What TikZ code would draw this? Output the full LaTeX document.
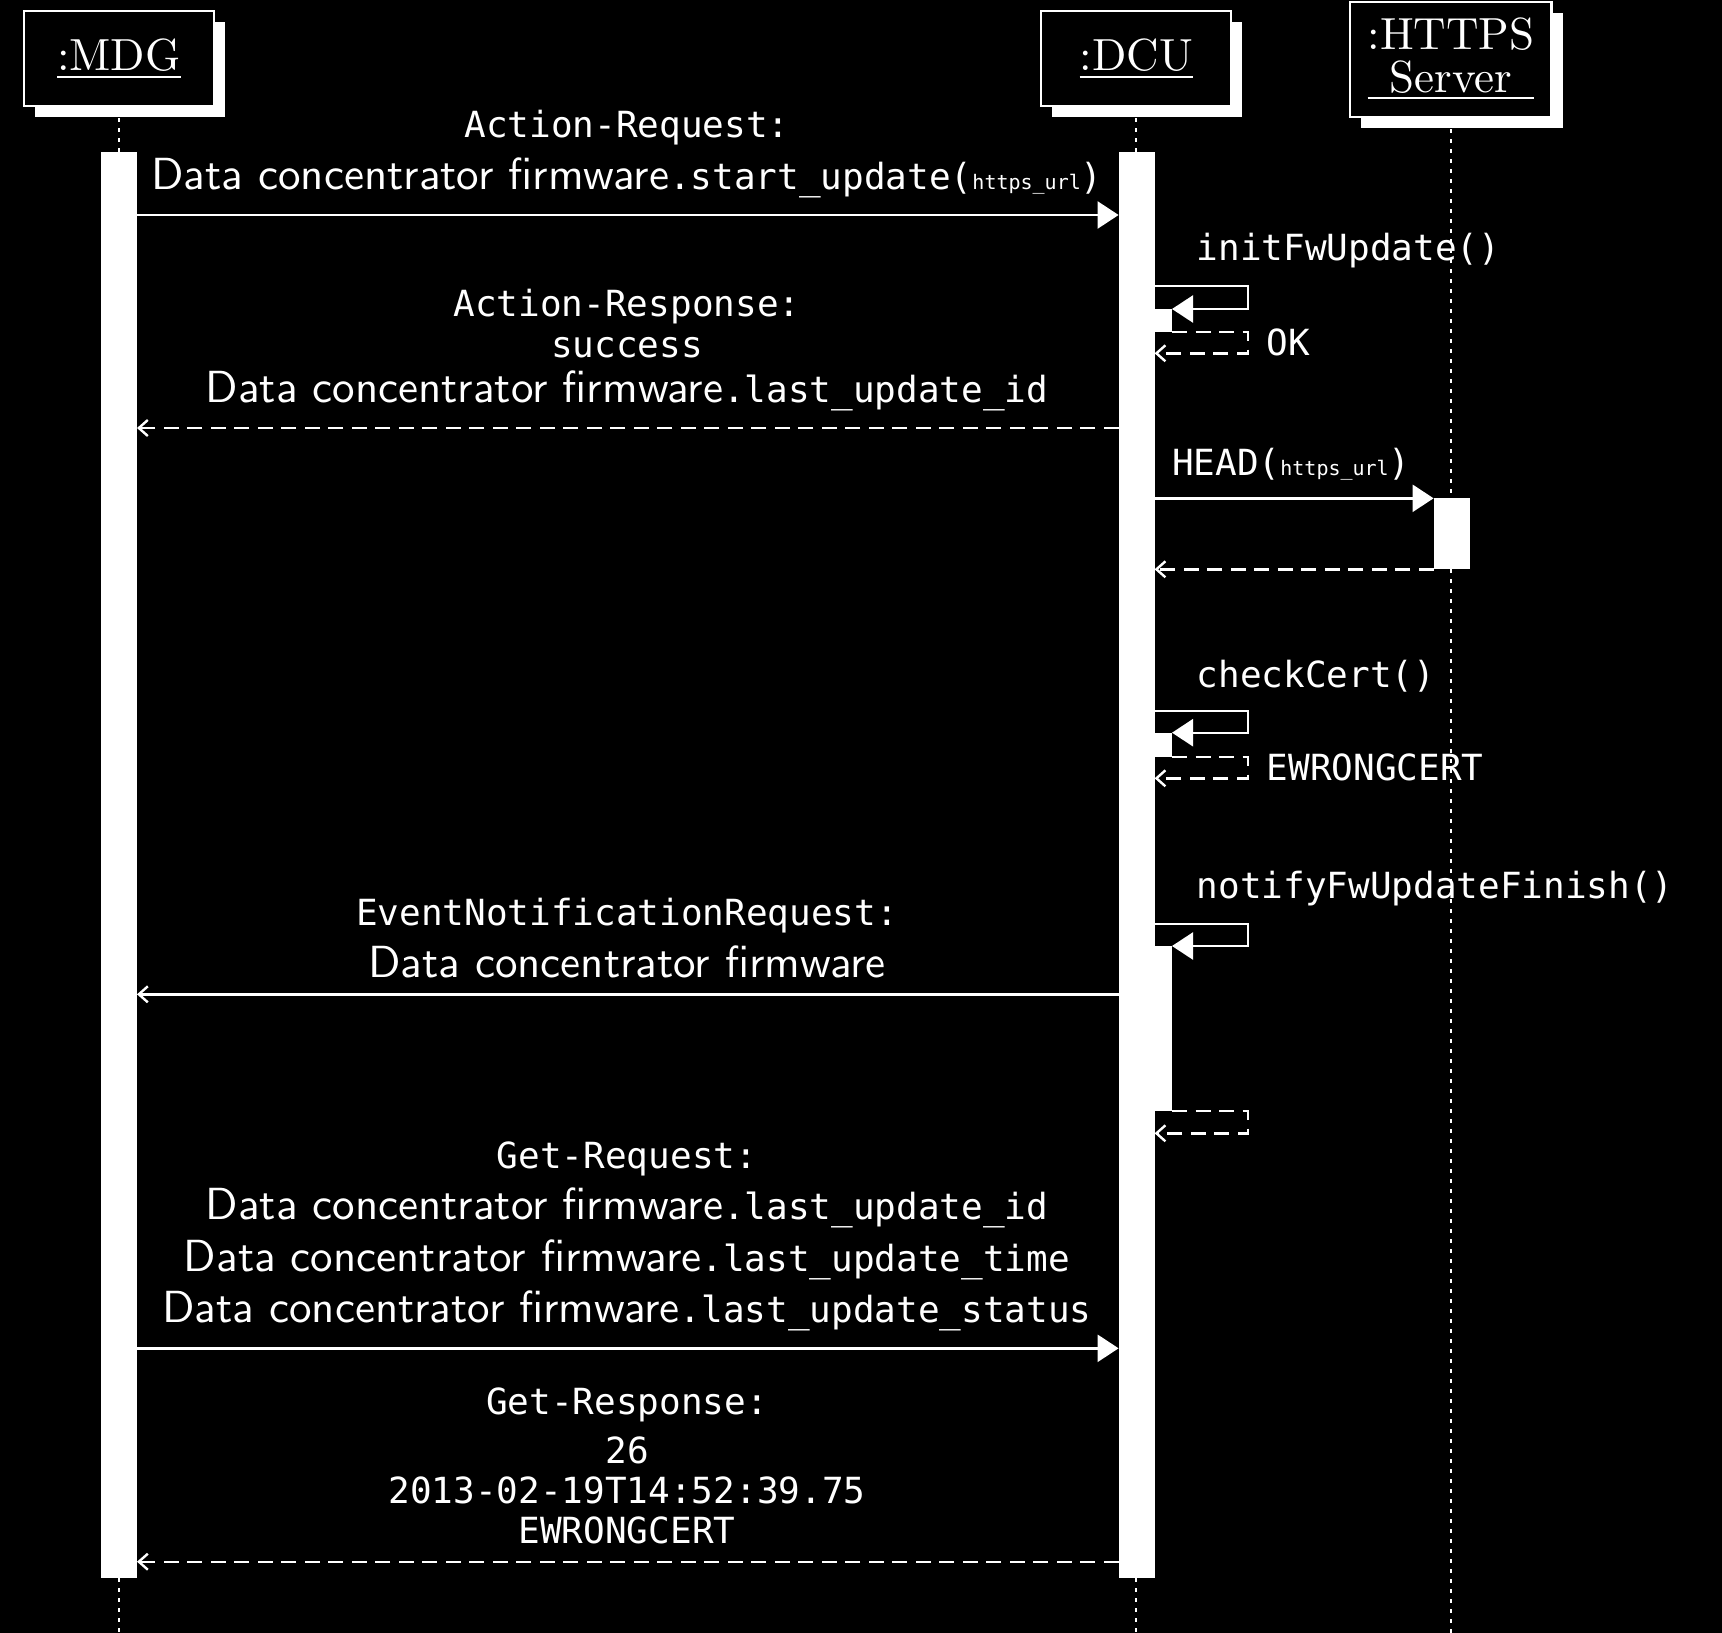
\documentclass[tikz,border=0pt]{standalone}
\usepackage{fontspec}
\usetikzlibrary{arrows.meta,shadows}
\newfontfamily\monoF{DejaVu Sans Mono}
\newfontfamily\sansF{lmsans10-regular.otf}
\newfontfamily\serifF{lmroman10-regular.otf}
\newcommand\mtxt[1]{{\monoF\fontsize{36}{40}\selectfont #1}}
\newcommand\stxt[1]{{\sansF\fontsize{45}{50}\selectfont #1}}
\newcommand\utxt[1]{{\monoF\fontsize{20}{24}\selectfont #1}}
\newcommand\rtxt[1]{{\serifF\fontsize{45}{50}\selectfont #1}}
\begin{document}
\begin{tikzpicture}[x=1pt,y=-1pt,
  lbl/.style={text=white,inner sep=0pt,outer sep=0pt,anchor=base},
  lblw/.style={lbl,anchor=base west},
  objbox/.style={draw=white,fill=black,line width=2.2pt,inner sep=0pt,
    drop shadow={shadow xshift=11pt,shadow yshift=-11pt,fill=white,opacity=1}},
  bar/.style={fill=white,inner sep=0pt,outer sep=0pt,minimum width=36pt},
  nbar/.style={fill=white,inner sep=0pt,outer sep=0pt,minimum width=17.4pt},
  lifeline/.style={white,line width=2.2pt,dash pattern=on 3.5pt off 6.5pt},
  uline/.style={white,line width=2.2pt},
  call/.style={white,line width=2.4pt,-{Triangle[length=21pt,width=27pt]}},
  ret/.style={white,line width=2.4pt,dash pattern=on 15pt off 8.5pt,-{Straight Barb[length=9pt,width=16pt]}},
  async/.style={white,line width=2.4pt,-{Straight Barb[length=9pt,width=16pt]}},
]
% background and bounds
\fill[black] (0,0) rectangle (1722,1633);
\useasboundingbox (0,0) rectangle (1722,1633);

% object boxes
\node[objbox,minimum width=190pt,minimum height=95pt] (mdg) at (118.8,58.4) {};
\node[objbox,minimum width=190pt,minimum height=95pt] (dcu) at (1136.2,58.4) {};
\node[objbox,minimum width=201.5pt,minimum height=115pt] (https) at (1450.8,59.5) {};

\node[lbl] (mdgT) at (118.8,70) {\rtxt{:MDG}};
\node[lbl] (dcuT) at (1136.2,70) {\rtxt{:DCU}};
\node[lbl] (ht1) at (1451,49) {\rtxt{:HTTPS}};
\node[lbl] (ht2) at (1451,92) {\rtxt{Server}};
\coordinate (ulA) at (0,76.7);
\coordinate (ulB) at (0,98);
\draw[uline] (mdgT.west |- ulA) -- (mdgT.east |- ulA);
\draw[uline] (dcuT.west |- ulA) -- (dcuT.east |- ulA);
\draw[uline] (ht1.west |- ulB) -- (ht1.east |- ulB);

% lifelines
\coordinate (bottom) at (0,1633);
\draw[lifeline] ([yshift=-11pt]mdg.south) -- (mdg.south |- bottom);
\draw[lifeline] ([yshift=-11pt]dcu.south) -- (dcu.south |- bottom);
\draw[lifeline] ([yshift=-11pt]https.south) -- (https.south |- bottom);

% activation bars
\node[bar,minimum height=1426.6pt] (mdgbar) at (119,865) {};
\node[bar,minimum height=1426.6pt] (dcubar) at (1136.6,865) {};
\node[bar,minimum height=71pt] (hbar) at (1451.6,533.8) {};
\node[nbar,minimum height=22.7pt] (nest1) at (1163.3,320.35) {};
\node[nbar,minimum height=24pt] (nest2) at (1163.3,744.7) {};
\node[nbar,minimum height=164.7pt] (nest3) at (1163.3,1028.35) {};

% Action-Request
\node[lbl] (ar1) at (627,137.7) {\mtxt{Action-Request:}};
\node[lbl] (ar2) at (627,189.3) {\stxt{Data concentrator firmware}\mtxt{.start\_update(}\utxt{https\_url}\mtxt{)}};
\coordinate (y1) at (0,215);
\draw[call] (mdgbar.east |- y1) -- (dcubar.west |- y1);

% initFwUpdate
\node[lblw] (sc1) at (1196.7,260.7) {\mtxt{initFwUpdate()}};
\coordinate (c1) at (0,285.7);
\draw[call] (dcubar.east |- c1) -- ++(93.4,0) |- (nest1.north east);
\coordinate (r1) at (0,353.3);
\draw[ret] (nest1.south east) -- ++(76,0) |- (dcubar.east |- r1);
\node[lblw] (ok) at (1266.7,355) {\mtxt{OK}};

% Action-Response
\node[lbl] (rs1) at (627,316) {\mtxt{Action-Response:}};
\node[lbl] (rs2) at (627,357) {\mtxt{success}};
\node[lbl] (rs3) at (627,402) {\stxt{Data concentrator firmware}\mtxt{.last\_update\_id}};
\coordinate (y2) at (0,428);
\draw[ret] (dcubar.west |- y2) -- (mdgbar.east |- y2);

% HEAD
\node[lblw] (head) at (1172,475) {\mtxt{HEAD(}\utxt{https\_url}\mtxt{)}};
\draw[call] (dcubar.east |- hbar.north) -- (hbar.north west);
\draw[ret] (hbar.south west) -- (dcubar.east |- hbar.south);

% checkCert
\node[lblw] (sc2) at (1196.7,687.3) {\mtxt{checkCert()}};
\coordinate (c2) at (0,710.7);
\draw[call] (dcubar.east |- c2) -- ++(93.4,0) |- (nest2.north east);
\coordinate (r2) at (0,778.3);
\draw[ret] (nest2.south east) -- ++(76,0) |- (dcubar.east |- r2);
\node[lblw] (ewc) at (1266.7,780) {\mtxt{EWRONGCERT}};

% notifyFwUpdateFinish
\node[lblw] (sc3) at (1196.7,898.3) {\mtxt{notifyFwUpdateFinish()}};
\coordinate (c3) at (0,924);
\draw[call] (dcubar.east |- c3) -- ++(93.4,0) |- (nest3.north east);
\coordinate (r3) at (0,1133.3);
\draw[ret] (nest3.south east) -- ++(76,0) |- (dcubar.east |- r3);

% EventNotificationRequest
\node[lbl] (en1) at (627,925) {\mtxt{EventNotificationRequest:}};
\node[lbl] (en2) at (627,977) {\stxt{Data concentrator firmware}};
\coordinate (y3) at (0,994.3);
\draw[async] (dcubar.west |- y3) -- (mdgbar.east |- y3);

% Get-Request
\node[lbl] (gq1) at (627,1168) {\mtxt{Get-Request:}};
\node[lbl] (gq2) at (627,1219.3) {\stxt{Data concentrator firmware}\mtxt{.last\_update\_id}};
\node[lbl] (gq3) at (627,1271.7) {\stxt{Data concentrator firmware}\mtxt{.last\_update\_time}};
\node[lbl] (gq4) at (627,1322.3) {\stxt{Data concentrator firmware}\mtxt{.last\_update\_status}};
\coordinate (y4) at (0,1348.3);
\draw[call] (mdgbar.east |- y4) -- (dcubar.west |- y4);

% Get-Response
\node[lbl] (gr1) at (627,1414) {\mtxt{Get-Response:}};
\node[lbl] (gr2) at (627,1463) {\mtxt{26}};
\node[lbl] (gr3) at (627,1503) {\mtxt{2013-02-19T14:52:39.75}};
\node[lbl] (gr4) at (627,1543) {\mtxt{EWRONGCERT}};
\coordinate (y5) at (0,1561.7);
\draw[ret] (dcubar.west |- y5) -- (mdgbar.east |- y5);
\end{tikzpicture}
\end{document}
